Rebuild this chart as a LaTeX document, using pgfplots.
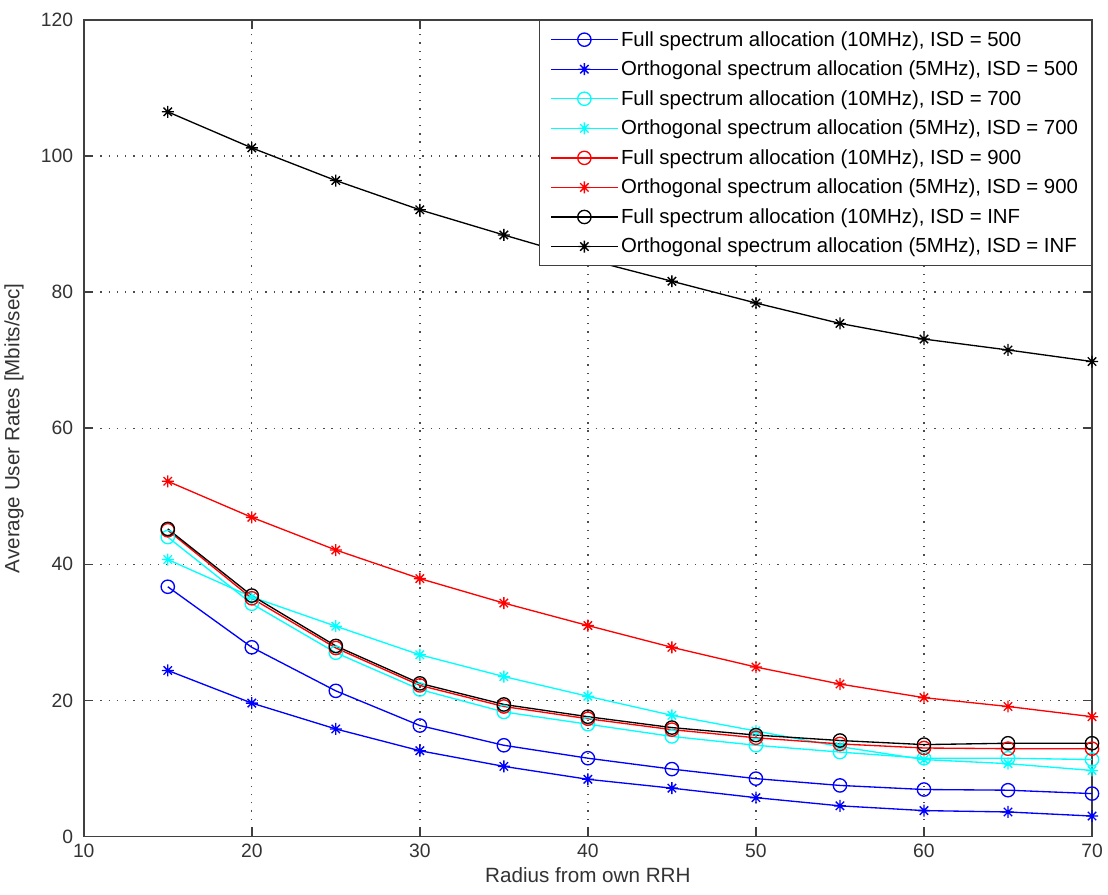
\documentclass[border=0pt]{standalone}
\usepackage{pgfplots}
\pgfplotsset{compat=1.18}
\usepackage{fontspec}
\setmainfont{Liberation Sans}
\definecolor{mcyan}{rgb}{0,1,1}

% MATLAB-style '*' marker: a plus and a cross on top of each other
\pgfdeclareplotmark{mstar}{%
  \pgfpathmoveto{\pgfqpoint{0pt}{\pgfplotmarksize}}%
  \pgfpathlineto{\pgfqpoint{0pt}{-\pgfplotmarksize}}%
  \pgfpathmoveto{\pgfqpoint{\pgfplotmarksize}{0pt}}%
  \pgfpathlineto{\pgfqpoint{-\pgfplotmarksize}{0pt}}%
  \pgfpathmoveto{\pgfqpoint{0.7\pgfplotmarksize}{0.7\pgfplotmarksize}}%
  \pgfpathlineto{\pgfqpoint{-0.7\pgfplotmarksize}{-0.7\pgfplotmarksize}}%
  \pgfpathmoveto{\pgfqpoint{0.7\pgfplotmarksize}{-0.7\pgfplotmarksize}}%
  \pgfpathlineto{\pgfqpoint{-0.7\pgfplotmarksize}{0.7\pgfplotmarksize}}%
  \pgfusepathqstroke}

\begin{document}
\begin{tikzpicture}
  \begin{axis}[
    name=ax,
    scale only axis,
    width=757pt, height=613pt,
    xmin=10, xmax=70,
    ymin=0, ymax=120,
    xtick={10,20,...,70},
    ytick={0,20,...,120},
    grid=major,
    major grid style={black!70, dash pattern=on 1pt off 5.2pt, line width=1pt},
    tick style={black!75, line width=1.1pt},
    major tick length=7pt,
    axis line style={black!75, line width=1.2pt},
    /pgf/number format/assume math mode=true,
    tick label style={font=\fontsize{14.5}{16}\selectfont, text=black!80},
    xticklabel style={yshift=-2pt},
    yticklabel style={xshift=-4.5pt},
    label style={font=\fontsize{15.5}{17}\selectfont, text=black!80},
    xlabel={Radius from own RRH},
    ylabel={Average User Rates [Mbits/sec]},
    xlabel style={yshift=-1pt},
    ylabel style={yshift=6pt},
    legend style={at={(1,1)}, anchor=north east,
      font=\fontsize{15.3}{17}\selectfont, draw=black!75, line width=1pt,
      inner xsep=8pt, inner ysep=6pt, row sep=5.6pt},
    legend cell align=left,
    legend image code/.code={
      \draw[mark repeat=2,mark phase=2] plot coordinates {(0pt,0pt) (25pt,0pt) (50pt,0pt)};
    },
    every axis plot/.append style={line width=1pt},
  ]
    % ISD = 500
    \addplot[blue, mark=o, mark size=5pt] coordinates {
      (15,36.7) (20,27.8) (25,21.4) (30,16.3) (35,13.4) (40,11.5)
      (45,9.9) (50,8.5) (55,7.5) (60,6.9) (65,6.8) (70,6.3)
    };
    \addlegendentry{Full spectrum allocation (10MHz), ISD = 500}
    \addplot[blue, mark=mstar, mark size=4.5pt] coordinates {
      (15,24.4) (20,19.6) (25,15.8) (30,12.6) (35,10.3) (40,8.4)
      (45,7.1) (50,5.7) (55,4.5) (60,3.8) (65,3.6) (70,3.0)
    };
    \addlegendentry{Orthogonal spectrum allocation (5MHz), ISD = 500}
    % ISD = 700
    \addplot[mcyan, mark=o, mark size=5pt] coordinates {
      (15,44.0) (20,34.2) (25,27.0) (30,21.6) (35,18.3) (40,16.5)
      (45,14.7) (50,13.4) (55,12.4) (60,11.5) (65,11.5) (70,11.3)
    };
    \addlegendentry{Full spectrum allocation (10MHz), ISD = 700}
    \addplot[mcyan, mark=mstar, mark size=4.5pt] coordinates {
      (15,40.7) (20,35.2) (25,30.9) (30,26.7) (35,23.5) (40,20.6)
      (45,17.8) (50,15.5) (55,13.2) (60,11.3) (65,10.7) (70,9.7)
    };
    \addlegendentry{Orthogonal spectrum allocation (5MHz), ISD = 700}
    % ISD = 900
    \addplot[red, mark=o, mark size=5pt] coordinates {
      (15,45.0) (20,35.0) (25,27.7) (30,22.2) (35,19.1) (40,17.3)
      (45,15.7) (50,14.5) (55,13.6) (60,13.0) (65,12.9) (70,12.9)
    };
    \addlegendentry{Full spectrum allocation (10MHz), ISD = 900}
    \addplot[red, mark=mstar, mark size=4.5pt] coordinates {
      (15,52.2) (20,46.9) (25,42.1) (30,37.9) (35,34.3) (40,31.0)
      (45,27.8) (50,24.9) (55,22.4) (60,20.4) (65,19.1) (70,17.6)
    };
    \addlegendentry{Orthogonal spectrum allocation (5MHz), ISD = 900}
    % ISD = INF
    \addplot[black, mark=o, mark size=5pt] coordinates {
      (15,45.2) (20,35.4) (25,28.0) (30,22.5) (35,19.4) (40,17.6)
      (45,16.0) (50,14.9) (55,14.1) (60,13.5) (65,13.7) (70,13.7)
    };
    \addlegendentry{Full spectrum allocation (10MHz), ISD = INF}
    \addplot[black, mark=mstar, mark size=4.5pt] coordinates {
      (15,106.5) (20,101.2) (25,96.4) (30,92.1) (35,88.4) (40,84.8)
      (45,81.6) (50,78.4) (55,75.4) (60,73.1) (65,71.5) (70,69.8)
    };
    \addlegendentry{Orthogonal spectrum allocation (5MHz), ISD = INF}
  \end{axis}
  % white margin round the box, as in the original figure
  \path (ax.north east) ++(12pt,15pt);
  \path (ax.south west) ++(-61.5pt,-43.5pt);
\end{tikzpicture}
\end{document}
